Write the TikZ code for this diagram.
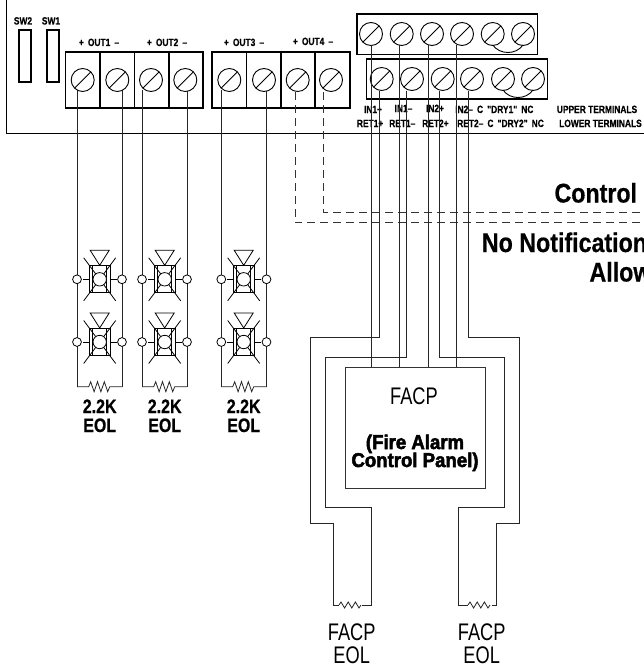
\documentclass[tikz,border=0pt]{standalone}
\usepackage{fontspec}
\setmainfont{Liberation Sans}
\newfontfamily\fsmall[BoldFeatures={FakeStretch=.8,FakeBold=.3}]{Liberation Sans}
\newfontfamily\flabel[BoldFeatures={FakeStretch=.86,FakeBold=.5}]{Liberation Sans}
\newfontfamily\feol[BoldFeatures={FakeStretch=.82,FakeBold=.5}]{Liberation Sans}
\newfontfamily\fthin[FakeStretch=.76]{Liberation Sans}
\newfontfamily\fheavy[BoldFeatures={FakeStretch=.93,FakeBold=2.5}]{Liberation Sans}
\tikzset{
  wirel/.style={line width=.8pt,draw=black!85},
  dashw/.style={line width=.8pt,draw=black!80,dash pattern=on 8pt off 5pt},
  boxl/.style={line width=1.1pt,draw=black},
  tiny/.style={font=\fsmall\bfseries\fontsize{10.5}{10.5}\selectfont,inner sep=0pt,anchor=base},
  big/.style={font=\flabel\bfseries\fontsize{27}{27}\selectfont,inner sep=0pt,anchor=base west},
  eol/.style={font=\feol\bfseries\fontsize{19.5}{19.5}\selectfont,inner sep=0pt,anchor=base},
  thin/.style={font=\fthin\fontsize{24}{24}\selectfont,inner sep=0pt,anchor=base},
  heavy/.style={font=\fheavy\bfseries\fontsize{20}{20}\selectfont,inner sep=0pt,anchor=base},
  pics/screw/.style={code={
    \draw[line width=.9pt,fill=white] (0,0) circle (11.5);
    \draw[line width=.9pt] (-8.1,8.1) -- (8.1,-8.1);
  }},
  pics/horn/.style={code={
    \draw[line width=.8pt] (-10.3,-13.5) rectangle (10.3,13.5);
    \draw[line width=.8pt] (-7,-13.5) -- (-7,13.5) (7,-13.5) -- (7,13.5);
    \draw[line width=.8pt] (-16,-21.5) -- (16,21.5) (16,-21.5) -- (-16,21.5);
    \draw[line width=.8pt,fill=white] (0,0) circle (6.7);
    \draw[line width=.8pt] (-9.5,-29) -- (9.5,-29) -- (0,-14) -- cycle;
    \draw[line width=.8pt] (-10.3,0) -- (-17,0) (10.3,0) -- (17,0);
  }},
  pics/term/.style={code={\draw[line width=.8pt,fill=white] (0,0) circle (4.4);}},
}
\begin{document}
\begin{tikzpicture}[x=1pt,y=-1pt]
\useasboundingbox (0,0) rectangle (644,669);
\fill[white] (0,0) rectangle (644,669);
% panel
\draw[boxl] (6.5,0) -- (6.5,133.5) -- (644,133.5);
\draw[boxl] (19,30) rectangle (31,82);
\draw[boxl] (47,30) rectangle (59,82);
\node[tiny] (sw2) at (23,24.5) {SW2};
\node[tiny] (sw1) at (51,24.5) {SW1};
\node[tiny] (out1) at (99,46) {+ \,OUT1\, –};
\node[tiny] (out2) at (167,46) {+ \,OUT2\, –};
\node[tiny] (out3) at (244,46) {+ \,OUT3\, –};
\node[tiny] (out4) at (313,45) {+ \,OUT4\, –};
% OUT blocks
\draw[boxl] (65.5,52) rectangle (203,108);
\draw[boxl] (212,52) rectangle (350,108);
\foreach \x in {100,134.5,169,246.5,281,315}{\draw[line width=1.6pt] (\x,52) -- (\x,108);}
% OUT wires
\foreach \x in {77,122,142,187,221.3,266.5}{\draw[wirel] (\x,90) -- (\x,386.7);}
\draw[dashw] (295,92) -- (295,222.7) -- (644,222.7);
\draw[dashw] (323.3,92) -- (323.3,212.3) -- (644,212.3);
\foreach \x in {82.7,117.3,151,185.3,229.3,264,297.7,331}{\pic at (\x,80) {screw};}
\foreach \x in {77,122,142,187,221.3,266.5}{\draw[wirel] (\x,91) -- (\x,100);}
% upper/lower terminal blocks
\draw[boxl] (357,14) rectangle (537.7,54.5);
\draw[boxl] (366.7,59) rectangle (547.7,99);
\foreach \x in {371,401.7,432,462,492.7,523}{\pic at (\x,34) {screw};}
\foreach \x in {381.7,412,442.7,472,503,533}{\pic at (\x,79) {screw};}
\draw[line width=.9pt] (492.7,45) .. controls (500,55) and (516,55) .. (523,45);
\draw[line width=.9pt] (503,90) .. controls (510,100) and (526,100) .. (533,90);
% labels
\node[tiny] (in1p) at (373,113) {IN1+};
\node[tiny] (in1m) at (403.5,112) {IN1–};
\node[tiny] (in2p) at (435,112) {IN2+};
\node[tiny,anchor=base west] (in2m) at (455,113) {IN2–\, C\, "DRY1"\, NC};
\node[tiny,anchor=base west] (upper) at (556.7,113) {UPPER TERMINALS};
\node[tiny,anchor=base west] (r1p) at (356.7,127) {RET1+};
\node[tiny,anchor=base west] (r1m) at (389,127) {RET1–};
\node[tiny,anchor=base west] (r2p) at (422,127) {RET2+};
\node[tiny,anchor=base west] (r2m) at (457,127) {RET2–\, C\, "DRY2"\, NC};
\node[tiny,anchor=base west] (lower) at (559,127) {LOWER TERMINALS};
% in wires
\foreach \x in {371.3,399.3,428.7,456.7}{\draw[wirel] (\x,45.5) -- (\x,367.7);}
\draw[wirel] (379,90.5) -- (379,337) -- (310.7,337) -- (310.7,523.7) -- (333.3,523.7) -- (333.3,605) -- (339,605);
\draw[wirel] (406.7,90.5) -- (406.7,357.3) -- (325.7,357.3) -- (325.7,507.7) -- (371.3,507.7) -- (371.3,605) -- (362,605);
\draw[wirel] (439.7,90.5) -- (439.7,357.3) -- (504.3,357.3) -- (504.3,507.7) -- (458.7,507.7) -- (458.7,605) -- (468,605);
\draw[wirel] (468.3,90.5) -- (468.3,337) -- (519.7,337) -- (519.7,523.7) -- (496.3,523.7) -- (496.3,605) -- (491.7,605);
\draw[wirel] (339,605) -- ++(2,-3) -- ++(3.6,6) -- ++(3.6,-6) -- ++(3.6,6) -- ++(3.6,-6) -- ++(3.6,6) -- ++(2,-3);
\draw[wirel] (468,605) -- ++(2,-3) -- ++(3.6,6) -- ++(3.6,-6) -- ++(3.6,6) -- ++(3.6,-6) -- ++(3.6,6) -- ++(2,-3);
% FACP
\draw[line width=1pt,draw=black!80,fill=white] (345.3,367.7) rectangle (485,488);
\node[thin] (facp) at (414,404.5) {FACP};
\node[heavy] (fire) at (415,449) {(Fire Alarm};
\node[heavy] (ctrl) at (415,467) {Control Panel)};
\node[thin] (e1a) at (351.7,640) {FACP};
\node[thin] (e1b) at (351.7,663) {EOL};
\node[thin] (e2a) at (481.7,640) {FACP};
\node[thin] (e2b) at (481.7,663) {EOL};
% devices
\foreach \x/\a/\b [count=\n] in {99.7/77/122,164.7/142/187,243.7/221.3/266.5}{
  \foreach \y in {279.3,342}{
    \pic at (\x,\y) {horn};
    \pic at (\a,\y) {term};
    \pic at (\b,\y) {term};
  }
  \draw[wirel] (\a,386.7) -- (\x-11,386.7) -- ++(2,-5) -- ++(3.4,10) -- ++(3.4,-10) -- ++(3.4,10) -- ++(3.4,-10) -- ++(3.4,10) -- ++(2,-5) -- (\b,386.7);
  \node[eol] (k\n) at (\x,413) {2.2K};
  \node[eol] (l\n) at (\x,432) {EOL};
}
% side labels
\node[big] (control) at (554.3,202.5) {Control};
\node[big] (nonot) at (481.7,252) {No Notification};
\node[big] (allow) at (589.3,281.5) {Allow};
\end{tikzpicture}
\end{document}
